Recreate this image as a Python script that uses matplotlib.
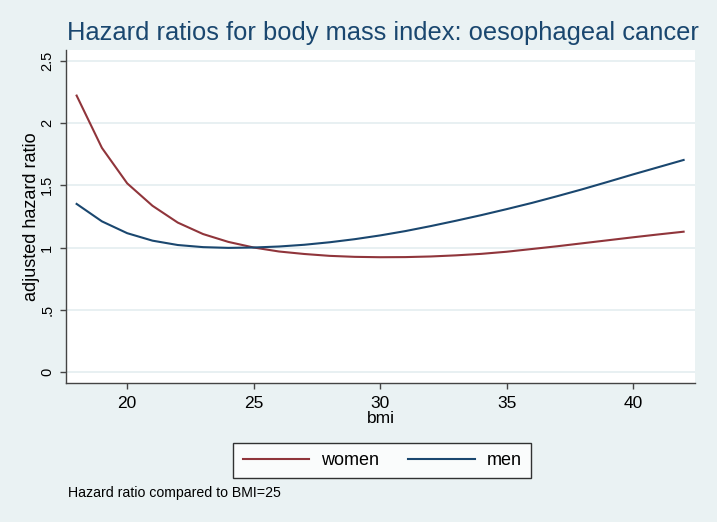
import matplotlib
matplotlib.use("Agg")
import matplotlib.pyplot as plt

bmi = list(range(18, 43))
women = [2.22, 1.80, 1.515, 1.335, 1.20, 1.108, 1.045, 1.0, 0.968, 0.948, 0.933, 0.925,
         0.922, 0.923, 0.928, 0.937, 0.949, 0.966, 0.988, 1.010, 1.034, 1.058, 1.082,
         1.105, 1.127]
men = [1.35, 1.21, 1.115, 1.055, 1.02, 1.003, 0.997, 1.0, 1.008, 1.022, 1.042, 1.067,
       1.097, 1.132, 1.172, 1.215, 1.26, 1.308, 1.358, 1.412, 1.468, 1.527, 1.587,
       1.645, 1.703]
xticks = [20, 25, 30, 35, 40]
yticks = [0, 0.5, 1, 1.5, 2, 2.5]
yticklabels = ["0", ".5", "1", "1.5", "2", "2.5"]

plt.rcParams['font.family'] = ['Liberation Sans', 'DejaVu Sans']
bg = '#EAF2F3'
navy = '#1a476f'
maroon = '#90353b'

W, H = 717, 522
fig = plt.figure(figsize=(W / 100, H / 100), dpi=100, facecolor=bg)
ax = fig.add_axes([66 / W, 1 - 383 / H, (695 - 66) / W, (383 - 50) / H])
ax.set_facecolor('white')
ax.plot(bmi, women, color=maroon, lw=1.5, label='women')
ax.plot(bmi, men, color=navy, lw=1.5, label='men')
ax.set_xlim(17.58, 42.45)
ax.set_ylim(-0.088, 2.586)
ax.set_xticks(xticks)
ax.set_yticks(yticks)
ax.set_yticklabels(yticklabels, rotation=90, va='center')
ax.grid(axis='y', color='#E4EEF0', lw=1.2)
ax.set_axisbelow(True)
for s in ['top', 'right']:
    ax.spines[s].set_visible(False)
for s in ['left', 'bottom']:
    ax.spines[s].set_color('#444444')
    ax.spines[s].set_linewidth(1.0)
ax.tick_params(direction='out', length=4.5, width=1, color='#444444')
ax.tick_params(axis='x', labelsize=12.5, pad=5)
ax.tick_params(axis='y', labelsize=10.5, pad=4)
ax.set_xlabel('bmi', fontsize=12.5, labelpad=0)
fig.text(31.5 / W, 1 - 216.5 / H, 'adjusted hazard ratio', rotation=90,
         ha='center', va='center', fontsize=13)
fig.text(382.5 / W, 1 - 33 / H, 'Hazard ratios for body mass index: oesophageal cancer',
         ha='center', va='center', fontsize=18.4, color=navy)
leg = ax.legend(loc='upper center', bbox_to_anchor=(382 / W, 1 - 443 / H),
                bbox_transform=fig.transFigure, ncol=2, frameon=True,
                fancybox=False, edgecolor='black', fontsize=13, handlelength=3.7,
                columnspacing=1.6, borderpad=0.5, handletextpad=0.65, borderaxespad=0)
leg.get_frame().set_linewidth(1.0)
fig.text(68 / W, 1 - 493 / H, 'Hazard ratio compared to BMI=25', fontsize=10.2, va='center')
fig.savefig('out.png', dpi=100, facecolor=bg)
